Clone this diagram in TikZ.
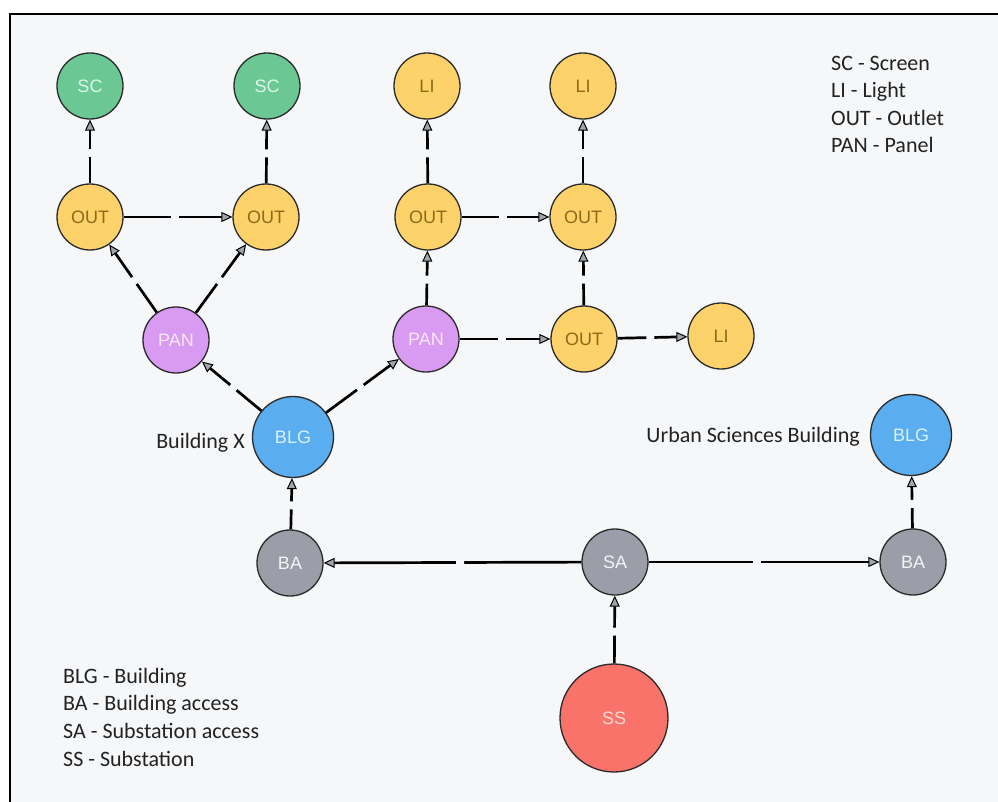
\documentclass[tikz,border=0pt]{standalone}
\usepackage{fontspec}
\setmainfont{Carlito}
\newfontfamily\nodefont{Liberation Sans}
\usetikzlibrary{arrows.meta}

\definecolor{bgcol}{HTML}{F6F7F9}
\definecolor{ringcol}{HTML}{2A2A2A}
\definecolor{tipgray}{HTML}{A0A4AC}
\definecolor{scfill}{HTML}{6BC895}
\definecolor{sctext}{HTML}{DDF7E7}
\definecolor{yfill}{HTML}{FDD26B}
\definecolor{ytext}{HTML}{8C6B17}
\definecolor{panfill}{HTML}{D99AF2}
\definecolor{pantext}{HTML}{FBE8FF}
\definecolor{blgfill}{HTML}{5AADEE}
\definecolor{blgtext}{HTML}{D9F1FF}
\definecolor{gfill}{HTML}{9B9EA8}
\definecolor{gtext}{HTML}{F3F4F6}
\definecolor{ssfill}{HTML}{F9736B}
\definecolor{sstext}{HTML}{FFDAD5}
\definecolor{legendtext}{HTML}{222222}

\begin{document}
\begin{tikzpicture}[x=1pt,y=-1pt,
  vertex/.style={circle, draw=ringcol, line width=1.3pt, inner sep=0pt,
    minimum size=66pt, font=\nodefont\fontsize{18}{20}\selectfont},
  screen/.style={vertex, fill=scfill, text=sctext},
  yellownode/.style={vertex, fill=yfill, text=ytext},
  panel/.style={vertex, fill=panfill, text=pantext},
  building/.style={vertex, fill=blgfill, text=blgtext, minimum size=81pt},
  access/.style={vertex, fill=gfill, text=gtext},
  station/.style={vertex, fill=ssfill, text=sstext, minimum size=108pt},
  edge/.style={draw=black, line width=2.7pt,
    -{Triangle[length=11pt,width=10pt,fill=tipgray,line width=1pt]}},
  gapmark/.style={sloped, fill=bgcol, inner sep=0pt, minimum width=8pt,
    minimum height=7pt, pos=0.47},
  legend/.style={font=\fontsize{22}{27.6}\selectfont, text=legendtext,
    align=left, inner sep=0pt},
  caption/.style={font=\fontsize{22}{27}\selectfont, text=legendtext, inner sep=0pt}
]
\useasboundingbox (0,0) rectangle (998,802);
\fill[white] (0,0) rectangle (998,802);
\fill[bgcol] (10,14) rectangle (998,802);
\draw[line width=2pt] (10,802) -- (10,14) -- (998,14);

% devices
\node[screen] (sc1) at (90,86) {SC};
\node[screen] (sc2) at (267,86) {SC};
\node[yellownode] (li1) at (427,86) {LI};
\node[yellownode] (li2) at (583,86) {LI};
\node[yellownode] (o1) at (90,217) {OUT};
\node[yellownode] (o2) at (266,217) {OUT};
\node[yellownode] (o3) at (428,217) {OUT};
\node[yellownode] (o4) at (583,217) {OUT};
\node[panel] (p1) at (176,340) {PAN};
\node[panel] (p2) at (426,339) {PAN};
\node[yellownode] (o5) at (584,339) {OUT};
\node[yellownode] (li3) at (721,336) {LI};

% buildings and network
\node[building] (b1) at (293,437) {BLG};
\node[building] (b2) at (911,435) {BLG};
\node[access] (ba1) at (290,563) {BA};
\node[access] (sa) at (615,562) {SA};
\node[access] (ba2) at (913,562) {BA};
\node[station] (ss) at (614,718) {SS};

% connections
\draw[edge] (o1) -- node[gapmark]{} (sc1);
\draw[edge] (o2) -- node[gapmark]{} (sc2);
\draw[edge] (o1) -- node[gapmark]{} (o2);
\draw[edge] (p1) -- node[gapmark]{} (o1);
\draw[edge] (p1) -- node[gapmark]{} (o2);
\draw[edge] (b1) -- node[gapmark]{} (p1);
\draw[edge] (b1) -- node[gapmark]{} (p2);
\draw[edge] (p2) -- node[gapmark]{} (o3);
\draw[edge] (o3) -- node[gapmark]{} (li1);
\draw[edge] (o3) -- node[gapmark]{} (o4);
\draw[edge] (o4) -- node[gapmark]{} (li2);
\draw[edge] (o5) -- node[gapmark]{} (o4);
\draw[edge] (p2) -- node[gapmark]{} (o5);
\draw[edge] (o5) -- node[gapmark]{} (li3);
\draw[edge] (ba1) -- node[gapmark]{} (b1);
\draw[edge] (sa) -- node[gapmark]{} (ba1);
\draw[edge] (sa) -- node[gapmark]{} (ba2);
\draw[edge] (ba2) -- node[gapmark]{} (b2);
\draw[edge] (ss) -- node[gapmark]{} (sa);

% labels
\node[caption, anchor=base east] (bx) at (245,448) {Building X};
\node[caption, anchor=base east] (usb) at (860,442) {Urban Sciences Building};

% legends (anchored at the baseline of their last line)
\node[legend, anchor=base west] (legtop) at (831,153)
  {SC - Screen\\LI - Light\\OUT - Outlet\\PAN - Panel};
\node[legend, anchor=base west] (legbot) at (63,766)
  {BLG - Building\\BA - Building access\\SA - Substation access\\SS - Substation};
\end{tikzpicture}
\end{document}
